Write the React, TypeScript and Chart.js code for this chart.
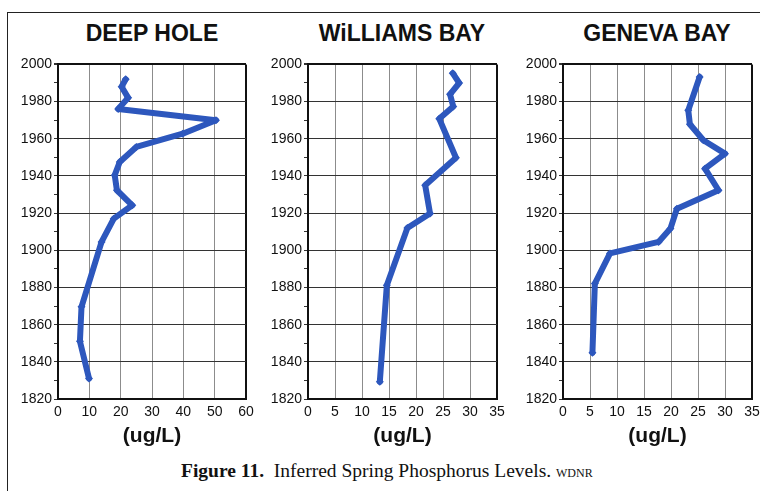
import React, { useEffect, useRef } from "react";
import { Chart, registerables } from "chart.js";

Chart.register(...registerables);

// ---- Data (x = phosphorus ug/L, y = year) ----
const deepHoleValues = [21.6, 20.3, 22.4, 19.2, 50.4, 39.8, 25.0, 19.7, 18.1, 18.8, 23.7, 17.8, 13.9, 7.5, 7.0, 9.9];
const deepHoleYears = [1992, 1988, 1982, 1976, 1970, 1962.7, 1955.6, 1947.5, 1940.4, 1932.3, 1924.2, 1917, 1904.5, 1869.6, 1851, 1831];

const williamsValues = [26.8, 28.0, 26.3, 26.9, 24.3, 27.4, 21.7, 22.6, 18.4, 14.6, 13.3];
const williamsYears = [1995.3, 1990, 1983.9, 1977.4, 1970.8, 1949.8, 1935, 1919.8, 1912, 1881.2, 1829.3];

const genevaValues = [25.3, 23.2, 23.5, 26.0, 30.0, 26.3, 28.8, 21.1, 19.9, 17.7, 8.7, 5.9, 5.45];
const genevaYears = [1993.2, 1975.3, 1967.8, 1959.2, 1952, 1943.9, 1932.3, 1922.4, 1911.7, 1904.5, 1898.3, 1882.1, 1844.9];

const panelTitles = ["DEEP HOLE", "WiLLIAMS BAY", "GENEVA BAY"];
const xMaxes = [60, 35, 35];
const xSteps = [10, 5, 5];
const yMin = 1820;
const yMax = 2000;
const yMajorStep = 20;
const xAxisTitle = "(ug/L)";

const LINE_COLOR = "#2d57bd";
const SANS = "'Liberation Sans', Arial, Helvetica, sans-serif";

type PanelProps = {
  values: number[];
  years: number[];
  title: string;
  xMax: number;
  xStep: number;
  left: number;
  width: number;
  padRight: number;
  titleCenter: number;
};

function Panel({ values, years, title, xMax, xStep, left, width, padRight, titleCenter }: PanelProps) {
  const ref = useRef<HTMLCanvasElement | null>(null);
  useEffect(() => {
    if (!ref.current) return;
    const data = values.map((v, i) => ({ x: v, y: years[i] }));
    const chart = new Chart(ref.current, {
      type: "scatter",
      data: {
        datasets: [
          {
            data,
            showLine: true,
            borderColor: LINE_COLOR,
            backgroundColor: LINE_COLOR,
            borderWidth: 6,
            borderJoinStyle: "round",
            borderCapStyle: "round",
            pointStyle: "rectRot",
            pointRadius: 4,
            pointBorderWidth: 0,
            pointBackgroundColor: LINE_COLOR,
          } as any,
        ],
      },
      options: {
        animation: false,
        responsive: false,
        maintainAspectRatio: false,
        layout: { padding: { top: 10, right: padRight, left: 0, bottom: 0 } },
        plugins: { legend: { display: false }, tooltip: { enabled: false }, title: { display: false } },
        scales: {
          x: {
            type: "linear",
            min: 0,
            max: xMax,
            afterFit: (s: any) => {
              s.height = 58;
              s.paddingLeft = 0;
              s.paddingRight = 0;
            },
            ticks: {
              stepSize: xStep,
              padding: 5,
              color: "#111",
              font: { family: SANS, size: 14 },
              maxRotation: 0,
              autoSkip: false,
            },
            grid: {
              drawTicks: false,
              color: (c: any) => (c.tick && c.tick.value === xMax ? "#111" : "#8c8c8c"),
              lineWidth: (c: any) => (c.tick && c.tick.value === xMax ? 2 : 1),
            },
            border: { color: "#111", width: 2 },
            title: {
              display: true,
              text: xAxisTitle,
              color: "#111",
              font: { family: SANS, size: 21, weight: "bold" },
              padding: { top: 0, bottom: 8 },
            },
          },
          y: {
            type: "linear",
            min: yMin,
            max: yMax,
            afterFit: (s: any) => {
              s.width = 58;
            },
            ticks: {
              stepSize: 10,
              padding: 2,
              color: "#111",
              autoSkip: false,
              font: { family: SANS, size: 14 },
              callback: (v: any) => (Number(v) % yMajorStep === 0 ? String(v) : ""),
            },
            grid: {
              drawTicks: true,
              tickLength: 4,
              tickColor: "#333",
              color: (c: any) => {
                const v = c.tick ? c.tick.value : 0;
                if (v % yMajorStep !== 0) return "rgba(0,0,0,0)";
                return v === yMax ? "#111" : "#333";
              },
              lineWidth: (c: any) => (c.tick && c.tick.value === yMax ? 2 : 1),
            },
            border: { color: "#111", width: 2 },
          },
        },
      },
    });
    return () => chart.destroy();
  }, [values, years, xMax, xStep, padRight]);

  return (
    <>
      <div
        style={{
          position: "absolute",
          left: titleCenter - 100,
          width: 200,
          top: 22,
          textAlign: "center",
          fontFamily: SANS,
          fontWeight: "bold",
          fontSize: 23,
          lineHeight: "23px",
          color: "#111",
          whiteSpace: "nowrap",
        }}
      >
        {title}
      </div>
      <canvas
        ref={ref}
        width={width}
        height={403}
        style={{ position: "absolute", left, top: 54, width, height: 403 }}
      />
    </>
  );
}

export default function App() {
  return (
    <div style={{ position: "absolute", left: 0, top: 0, width: 760, height: 491, background: "#fff", overflow: "hidden" }}>
      <div
        style={{
          position: "absolute",
          left: 7,
          top: 12,
          width: 760,
          height: 485,
          borderTop: "1.5px solid #222",
          borderLeft: "1.5px solid #222",
        }}
      />
      <Panel values={deepHoleValues} years={deepHoleYears} title={panelTitles[0]} xMax={xMaxes[0]} xStep={xSteps[0]} left={0} width={258} padRight={12} titleCenter={152} />
      <Panel values={williamsValues} years={williamsYears} title={panelTitles[1]} xMax={xMaxes[1]} xStep={xSteps[1]} left={250} width={259} padRight={12} titleCenter={402} />
      <Panel values={genevaValues} years={genevaYears} title={panelTitles[2]} xMax={xMaxes[2]} xStep={xSteps[2]} left={505} width={255} padRight={8} titleCenter={657} />
      <div
        style={{
          position: "absolute",
          left: 181,
          top: 460,
          fontFamily: "'Liberation Serif', 'Times New Roman', serif",
          fontSize: 19.5,
          lineHeight: "22px",
          color: "#111",
          whiteSpace: "nowrap",
        }}
      >
        <b>Figure 11.</b>&nbsp; Inferred Spring Phosphorus Levels. <span style={{ fontSize: 12 }}>WDNR</span>
      </div>
    </div>
  );
}
